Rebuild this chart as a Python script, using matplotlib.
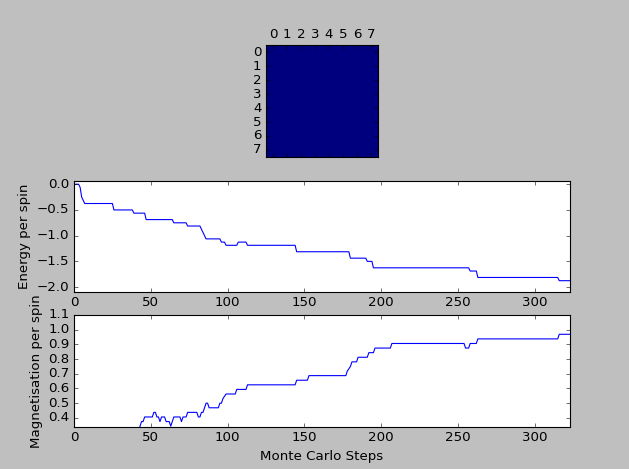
#!/usr/bin/env python3

# Ising model run: final 8x8 lattice, energy and magnetisation per spin vs MC steps

import numpy as np
import matplotlib
matplotlib.use("Agg")
import matplotlib.pyplot as plt

# final lattice state (all spins aligned)
lattice = np.ones((8, 8))

# energy per spin, vertices of the recorded trace
energy_steps = [0, 3, 4, 5, 6, 7, 25, 26, 38, 39, 46, 47, 64, 65, 73, 74,
                81, 82, 83, 84, 85, 86, 95, 96, 98, 99, 106, 107, 112, 113,
                144, 145, 179, 180, 190, 191, 194, 195, 257, 258, 262, 263,
                315, 316, 323]
energy = [0.0, 0.0, -0.0625, -0.25, -0.3125, -0.375, -0.375, -0.5, -0.5,
          -0.5625, -0.5625, -0.6875, -0.6875, -0.75, -0.75, -0.8125,
          -0.8125, -0.8125, -0.875, -0.9375, -1.0, -1.0625, -1.0625, -1.125,
          -1.125, -1.1875, -1.1875, -1.125, -1.125, -1.1875,
          -1.1875, -1.3125, -1.3125, -1.4375, -1.4375, -1.5, -1.5, -1.625,
          -1.625, -1.6875, -1.6875, -1.8125, -1.8125, -1.875, -1.875]

# magnetisation per spin, vertices of the recorded trace
mag_steps = [42, 43, 44, 45, 46, 51, 52, 53, 54, 55, 56, 57, 59, 60, 62, 63,
             64, 65, 69, 70, 71, 73, 74, 80, 81, 82, 83, 84, 85, 86, 87, 88,
             94, 95, 96, 97, 99, 105, 106, 112, 113, 144, 145, 152, 153,
             177, 178, 180, 181, 184, 185, 191, 192, 195, 196, 206, 207,
             254, 255, 257, 258, 262, 263, 315, 316, 323]
mag = [0.3125, 0.34375, 0.375, 0.375, 0.40625, 0.40625, 0.4375, 0.4375,
       0.40625, 0.40625, 0.375, 0.40625, 0.40625, 0.375, 0.375, 0.34375,
       0.375, 0.40625, 0.40625, 0.375, 0.40625, 0.40625, 0.4375, 0.4375,
       0.40625, 0.40625, 0.4375, 0.4375, 0.46875, 0.5, 0.5, 0.46875,
       0.46875, 0.5, 0.5, 0.53125, 0.5625, 0.5625, 0.59375, 0.59375, 0.625,
       0.625, 0.65625, 0.65625, 0.6875,
       0.6875, 0.71875, 0.75, 0.78125, 0.78125, 0.8125, 0.8125, 0.84375,
       0.84375, 0.875, 0.875, 0.90625,
       0.90625, 0.875, 0.875, 0.90625, 0.90625, 0.9375, 0.9375, 0.96875,
       0.96875]


def main():
    plt.style.use("classic")
    W, H = 629, 469
    fig = plt.figure(figsize=(W / 80, H / 80), dpi=80)

    ax_img = fig.add_axes([266 / W, 1 - 157 / H, 112 / W, 112 / H])
    ax_img.matshow(lattice, cmap="jet")
    ax_img.set_xticks(range(8))
    ax_img.set_yticks(range(8))

    ax_e = fig.add_axes([74 / W, 1 - 292 / H, 496 / W, 111 / H])
    ax_e.plot(energy_steps, energy, "b-")
    ax_e.set_xlim(0, 323)
    ax_e.set_ylim(-2.095, 0.0625)
    ax_e.set_xticks(range(0, 301, 50))
    ax_e.set_yticks([0.0, -0.5, -1.0, -1.5, -2.0])
    ax_e.set_ylabel("Energy per spin")

    ax_m = fig.add_axes([74 / W, 1 - 427 / H, 496 / W, 112 / H])
    ax_m.plot(mag_steps, mag, "b-")
    ax_m.set_xlim(0, 323)
    ax_m.set_ylim(0.338, 1.1)
    ax_m.set_xticks(range(0, 301, 50))
    ax_m.set_yticks(np.arange(0.4, 1.11, 0.1))
    ax_m.set_ylabel("Magnetisation per spin")
    ax_m.set_xlabel("Monte Carlo Steps")

    fig.savefig("out.png", dpi=80, facecolor=fig.get_facecolor())


if __name__ == "__main__":
    main()
